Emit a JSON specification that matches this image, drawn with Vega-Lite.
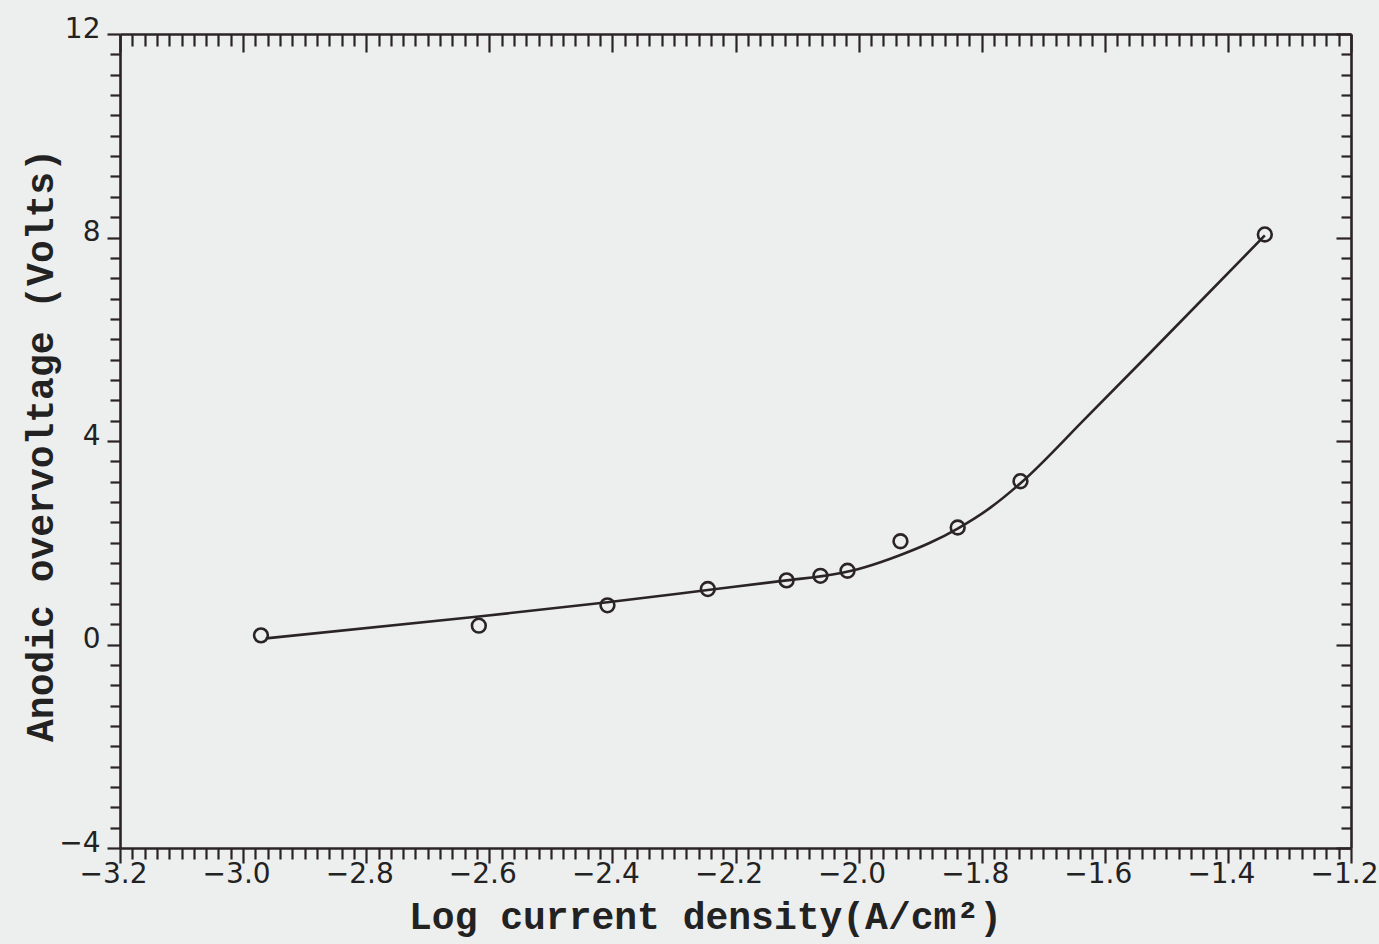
{
  "$schema": "https://vega.github.io/schema/vega-lite/v6.json",
  "width": 1231,
  "height": 814,
  "autosize": {"type": "none"},
  "padding": {"left": 120, "top": 34, "right": 28, "bottom": 96},
  "background": "#edeeee",
  "view": {"stroke": null},
  "config": {"axis": {"labelOverlap": false, "grid": false, "domainColor": "#2b2426", "domainWidth": 2.6, "tickColor": "#2b2426", "tickWidth": 2.2}},
  "datasets": {
    "curve": [
      {"logI": -2.963, "eta": 0.12},
      {"logI": -2.617, "eta": 0.55},
      {"logI": -2.408, "eta": 0.83},
      {"logI": -2.245, "eta": 1.07},
      {"logI": -2.117, "eta": 1.26},
      {"logI": -2.040, "eta": 1.38},
      {"logI": -1.990, "eta": 1.52},
      {"logI": -1.932, "eta": 1.76},
      {"logI": -1.884, "eta": 2.00},
      {"logI": -1.839, "eta": 2.28},
      {"logI": -1.787, "eta": 2.68},
      {"logI": -1.737, "eta": 3.17},
      {"logI": -1.631, "eta": 4.45},
      {"logI": -1.529, "eta": 5.70},
      {"logI": -1.340, "eta": 8.04}
    ],
    "points": [
      {"logI": -2.971, "eta": 0.18},
      {"logI": -2.617, "eta": 0.37},
      {"logI": -2.408, "eta": 0.77},
      {"logI": -2.245, "eta": 1.09},
      {"logI": -2.117, "eta": 1.26},
      {"logI": -2.062, "eta": 1.35},
      {"logI": -2.018, "eta": 1.45},
      {"logI": -1.932, "eta": 2.03},
      {"logI": -1.839, "eta": 2.30},
      {"logI": -1.737, "eta": 3.21},
      {"logI": -1.340, "eta": 8.06}
    ]
  },
  "layer": [
    {
      "data": {"name": "curve"},
      "mark": {"type": "line", "interpolate": "monotone", "stroke": "#2b2426", "strokeWidth": 2.6},
      "encoding": {
        "x": {
          "field": "logI", "type": "quantitative",
          "scale": {"domain": [-3.2, -1.2], "nice": false, "zero": false},
          "axis": {
            "orient": "bottom",
            "values": [-3.2, -3.0, -2.8, -2.6, -2.4, -2.2, -2.0, -1.8, -1.6, -1.4, -1.2],
            "format": ".1f",
            "labelOverlap": false,
            "labelFlush": false,
            "labelBound": false,
            "labelFont": "DejaVu Sans",
            "labelFontSize": 28,
            "labelColor": "#222222",
            "labelBaseline": "alphabetic",
            "labelPadding": 19,
            "labelOffset": -7,
            "tickSize": 15,
            "title": "Log current density(A/cm²)",
            "titleFont": "Liberation Mono",
            "titleFontWeight": "bold",
            "titleFontSize": 38,
            "titleColor": "#222222",
            "titleBaseline": "alphabetic",
            "titleAnchor": null,
            "titleX": 585,
            "titleY": 80
          }
        },
        "y": {
          "field": "eta", "type": "quantitative",
          "scale": {"domain": [-4, 12], "nice": false, "zero": false},
          "axis": {
            "orient": "left",
            "values": [-4, 0, 4, 8, 12],
            "format": "d",
            "labelOverlap": false,
            "labelFlush": false,
            "labelBound": false,
            "labelFont": "DejaVu Sans",
            "labelFontSize": 28,
            "labelColor": "#222222",
            "labelPadding": 7,
            "labelOffset": -5,
            "tickSize": 13,
            "title": "Anodic overvoltage  (Volts)",
            "titleFont": "Liberation Mono",
            "titleFontWeight": "bold",
            "titleFontSize": 38,
            "titleColor": "#222222",
            "titleBaseline": "alphabetic",
            "titleAnchor": null,
            "titleAngle": -90,
            "titleX": -68,
            "titleY": 411
          }
        }
      }
    },
    {
      "data": {"name": "points"},
      "mark": {"type": "point", "shape": "circle", "filled": false, "stroke": "#2b2426", "strokeWidth": 2.6, "size": 190, "opacity": 1},
      "encoding": {
        "x": {
          "field": "logI", "type": "quantitative",
          "axis": {
            "orient": "top",
            "values": [-3.2, -3.0, -2.8, -2.6, -2.4, -2.2, -2.0, -1.8, -1.6, -1.4, -1.2],
            "labels": false,
            "tickSize": -18,
            "title": null
          }
        },
        "y": {
          "field": "eta", "type": "quantitative",
          "axis": {
            "orient": "right",
            "values": [-4, 0, 4, 8, 12],
            "labels": false,
            "tickSize": -15,
            "title": null
          }
        }
      }
    },
    {
      "data": {"name": "points"},
      "mark": {"type": "point", "opacity": 0},
      "encoding": {
        "x": {
          "field": "logI", "type": "quantitative",
          "axis": {
            "orient": "bottom",
            "values": [-3.18,-3.16,-3.14,-3.12,-3.1,-3.08,-3.06,-3.04,-3.02,-2.98,-2.96,-2.94,-2.92,-2.9,-2.88,-2.86,-2.84,-2.82,-2.78,-2.76,-2.74,-2.72,-2.7,-2.68,-2.66,-2.64,-2.62,-2.58,-2.56,-2.54,-2.52,-2.5,-2.48,-2.46,-2.44,-2.42,-2.38,-2.36,-2.34,-2.32,-2.3,-2.28,-2.26,-2.24,-2.22,-2.18,-2.16,-2.14,-2.12,-2.1,-2.08,-2.06,-2.04,-2.02,-1.98,-1.96,-1.94,-1.92,-1.9,-1.88,-1.86,-1.84,-1.82,-1.78,-1.76,-1.74,-1.72,-1.7,-1.68,-1.66,-1.64,-1.62,-1.58,-1.56,-1.54,-1.52,-1.5,-1.48,-1.46,-1.44,-1.42,-1.38,-1.36,-1.34,-1.32,-1.3,-1.28,-1.26,-1.24,-1.22],
            "labels": false,
            "domain": false,
            "tickSize": 11,
            "title": null
          }
        },
        "y": {
          "field": "eta", "type": "quantitative",
          "axis": {
            "orient": "left",
            "values": [-3.6,-3.2,-2.8,-2.4,-2,-1.6,-1.2,-0.8,-0.4,0.4,0.8,1.2,1.6,2,2.4,2.8,3.2,3.6,4.4,4.8,5.2,5.6,6,6.4,6.8,7.2,7.6,8.4,8.8,9.2,9.6,10,10.4,10.8,11.2,11.6],
            "labels": false,
            "domain": false,
            "tickSize": 10,
            "title": null
          }
        }
      }
    },
    {
      "data": {"name": "points"},
      "mark": {"type": "point", "opacity": 0},
      "encoding": {
        "x": {
          "field": "logI", "type": "quantitative",
          "axis": {
            "orient": "top",
            "values": [-3.18,-3.16,-3.14,-3.12,-3.1,-3.08,-3.06,-3.04,-3.02,-2.98,-2.96,-2.94,-2.92,-2.9,-2.88,-2.86,-2.84,-2.82,-2.78,-2.76,-2.74,-2.72,-2.7,-2.68,-2.66,-2.64,-2.62,-2.58,-2.56,-2.54,-2.52,-2.5,-2.48,-2.46,-2.44,-2.42,-2.38,-2.36,-2.34,-2.32,-2.3,-2.28,-2.26,-2.24,-2.22,-2.18,-2.16,-2.14,-2.12,-2.1,-2.08,-2.06,-2.04,-2.02,-1.98,-1.96,-1.94,-1.92,-1.9,-1.88,-1.86,-1.84,-1.82,-1.78,-1.76,-1.74,-1.72,-1.7,-1.68,-1.66,-1.64,-1.62,-1.58,-1.56,-1.54,-1.52,-1.5,-1.48,-1.46,-1.44,-1.42,-1.38,-1.36,-1.34,-1.32,-1.3,-1.28,-1.26,-1.24,-1.22],
            "labels": false,
            "domain": false,
            "tickSize": -12,
            "title": null
          }
        },
        "y": {
          "field": "eta", "type": "quantitative",
          "axis": {
            "orient": "right",
            "values": [-3.6,-3.2,-2.8,-2.4,-2,-1.6,-1.2,-0.8,-0.4,0.4,0.8,1.2,1.6,2,2.4,2.8,3.2,3.6,4.4,4.8,5.2,5.6,6,6.4,6.8,7.2,7.6,8.4,8.8,9.2,9.6,10,10.4,10.8,11.2,11.6],
            "labels": false,
            "domain": false,
            "tickSize": -10,
            "title": null
          }
        }
      }
    }
  ],
  "resolve": {"axis": {"x": "independent", "y": "independent"}}
}
